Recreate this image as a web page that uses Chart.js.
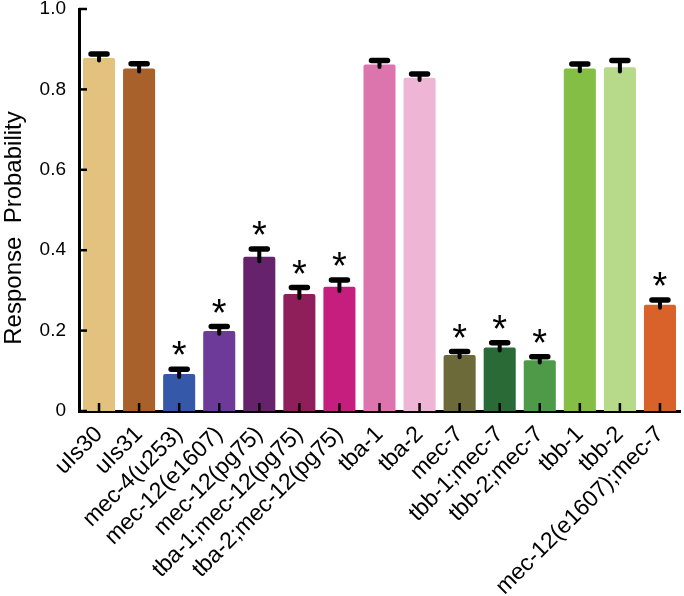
<!DOCTYPE html>
<html>
<head>
<meta charset="utf-8">
<script src="https://cdn.jsdelivr.net/npm/chart.js@4.4.1/dist/chart.umd.min.js"></script>
<style>
  html, body { margin: 0; padding: 0; background: #fff; }
  #wrap { width: 684px; height: 596px; position: relative; }
</style>
</head>
<body>
<div id="wrap"><canvas id="chart"></canvas></div>
<script>
// strains on the x axis
const strains = ['uIs30', 'uIs31', 'mec-4(u253)', 'mec-12(e1607)', 'mec-12(pg75)',
    'tba-1;mec-12(pg75)', 'tba-2;mec-12(pg75)', 'tba-1', 'tba-2', 'mec-7',
    'tbb-1;mec-7', 'tbb-2;mec-7', 'tbb-1', 'tbb-2', 'mec-12(e1607);mec-7'];
const responseProb = [0.878, 0.852, 0.092, 0.199, 0.384, 0.291, 0.309, 0.862, 0.829,
    0.139, 0.158, 0.126, 0.852, 0.855, 0.264];
const sem = [0.010, 0.012, 0.012, 0.011, 0.019, 0.016, 0.017, 0.010, 0.009,
    0.009, 0.012, 0.009, 0.011, 0.017, 0.012];
const significant = [false, false, true, true, true, true, true, false, false,
    true, true, true, false, false, true];
const yTicks = [0, 0.2, 0.4, 0.6, 0.8, 1.0];
const yTitle = 'Response  Probability';
const barColors = ['#E2C27E', '#A8612A', '#3558A8', '#6E3A9A', '#66226A', '#8E1F5A',
    '#C51E7E', '#DC74AE', '#EFB5D5', '#6B6A38', '#2A6A36', '#4E9A48', '#84BE45',
    '#B7DA8A', '#D9622B'];

const FONT = '"Liberation Sans", Arial, sans-serif';

// error bars (T shaped), stars, inward tick marks and the y title
const errorBarPlugin = {
    id: 'errorBars',
    afterDatasetsDraw(chart) {
        const { ctx, scales: { x, y }, chartArea } = chart;
        const meta = chart.getDatasetMeta(0);
        ctx.save();
        ctx.strokeStyle = '#000';
        ctx.fillStyle = '#000';
        ctx.lineCap = 'round';
        meta.data.forEach((bar, i) => {
            const cx = bar.x;
            const yTop = y.getPixelForValue(responseProb[i] + sem[i]);
            const yLow = y.getPixelForValue(responseProb[i] - sem[i] * 0.6);
            ctx.lineWidth = 4;
            ctx.beginPath();
            ctx.moveTo(cx, yLow);
            ctx.lineTo(cx, yTop);
            ctx.stroke();
            ctx.lineWidth = 5.5;
            ctx.beginPath();
            ctx.moveTo(cx - 8, yTop);
            ctx.lineTo(cx + 8, yTop);
            ctx.stroke();
            if (significant[i]) {
                ctx.font = '38px ' + FONT;
                ctx.textAlign = 'center';
                ctx.textBaseline = 'alphabetic';
                ctx.fillText('*', cx, yTop - 1);
            }
        });
        // inward ticks
        ctx.lineCap = 'butt';
        ctx.lineWidth = 2.5;
        meta.data.forEach(bar => {
            ctx.beginPath();
            ctx.moveTo(bar.x, chartArea.bottom);
            ctx.lineTo(bar.x, chartArea.bottom - 8);
            ctx.stroke();
        });
        yTicks.forEach(v => {
            const py = y.getPixelForValue(v);
            ctx.beginPath();
            ctx.moveTo(chartArea.left, py);
            ctx.lineTo(chartArea.left + 8, py);
            ctx.stroke();
        });
        // y axis title
        ctx.translate(21, 228);
        ctx.rotate(-Math.PI / 2);
        ctx.font = '24px ' + FONT;
        ctx.textAlign = 'center';
        ctx.textBaseline = 'alphabetic';
        ctx.fillText(yTitle, 0, 0);
        ctx.restore();
    }
};

const ctx = document.getElementById('chart').getContext('2d');
new Chart(ctx, {
    type: 'bar',
    data: {
        labels: strains,
        datasets: [{
            data: responseProb,
            backgroundColor: barColors,
            borderWidth: 0,
            borderRadius: 2,
            borderSkipped: 'bottom',
            barPercentage: 0.8,
            categoryPercentage: 1.0
        }]
    },
    options: {
        responsive: true,
        maintainAspectRatio: false,
        animation: false,
        layout: { padding: { top: 9, right: 4, left: 0, bottom: 0 } },
        plugins: { legend: { display: false }, tooltip: { enabled: false } },
        scales: {
            x: {
                offset: true,
                grid: { display: false },
                border: { display: true, color: '#000', width: 3 },
                ticks: {
                    color: '#000', autoSkip: false, maxRotation: 45, minRotation: 45,
                    padding: 2, font: { family: FONT, size: 23 }
                },
                afterFit: s => { s.height = 185; }
            },
            y: {
                min: 0, max: 1,
                grid: { display: false },
                border: { display: true, color: '#000', width: 3 },
                ticks: {
                    color: '#000', stepSize: 0.2, padding: 5,
                    font: { family: FONT, size: 19 },
                    callback: v => v === 0 ? '0' : v.toFixed(1)
                },
                afterFit: s => { s.width = 79; s.paddingTop = 0; s.paddingBottom = 0; }
            }
        }
    },
    plugins: [errorBarPlugin]
});
</script>
</body>
</html>
